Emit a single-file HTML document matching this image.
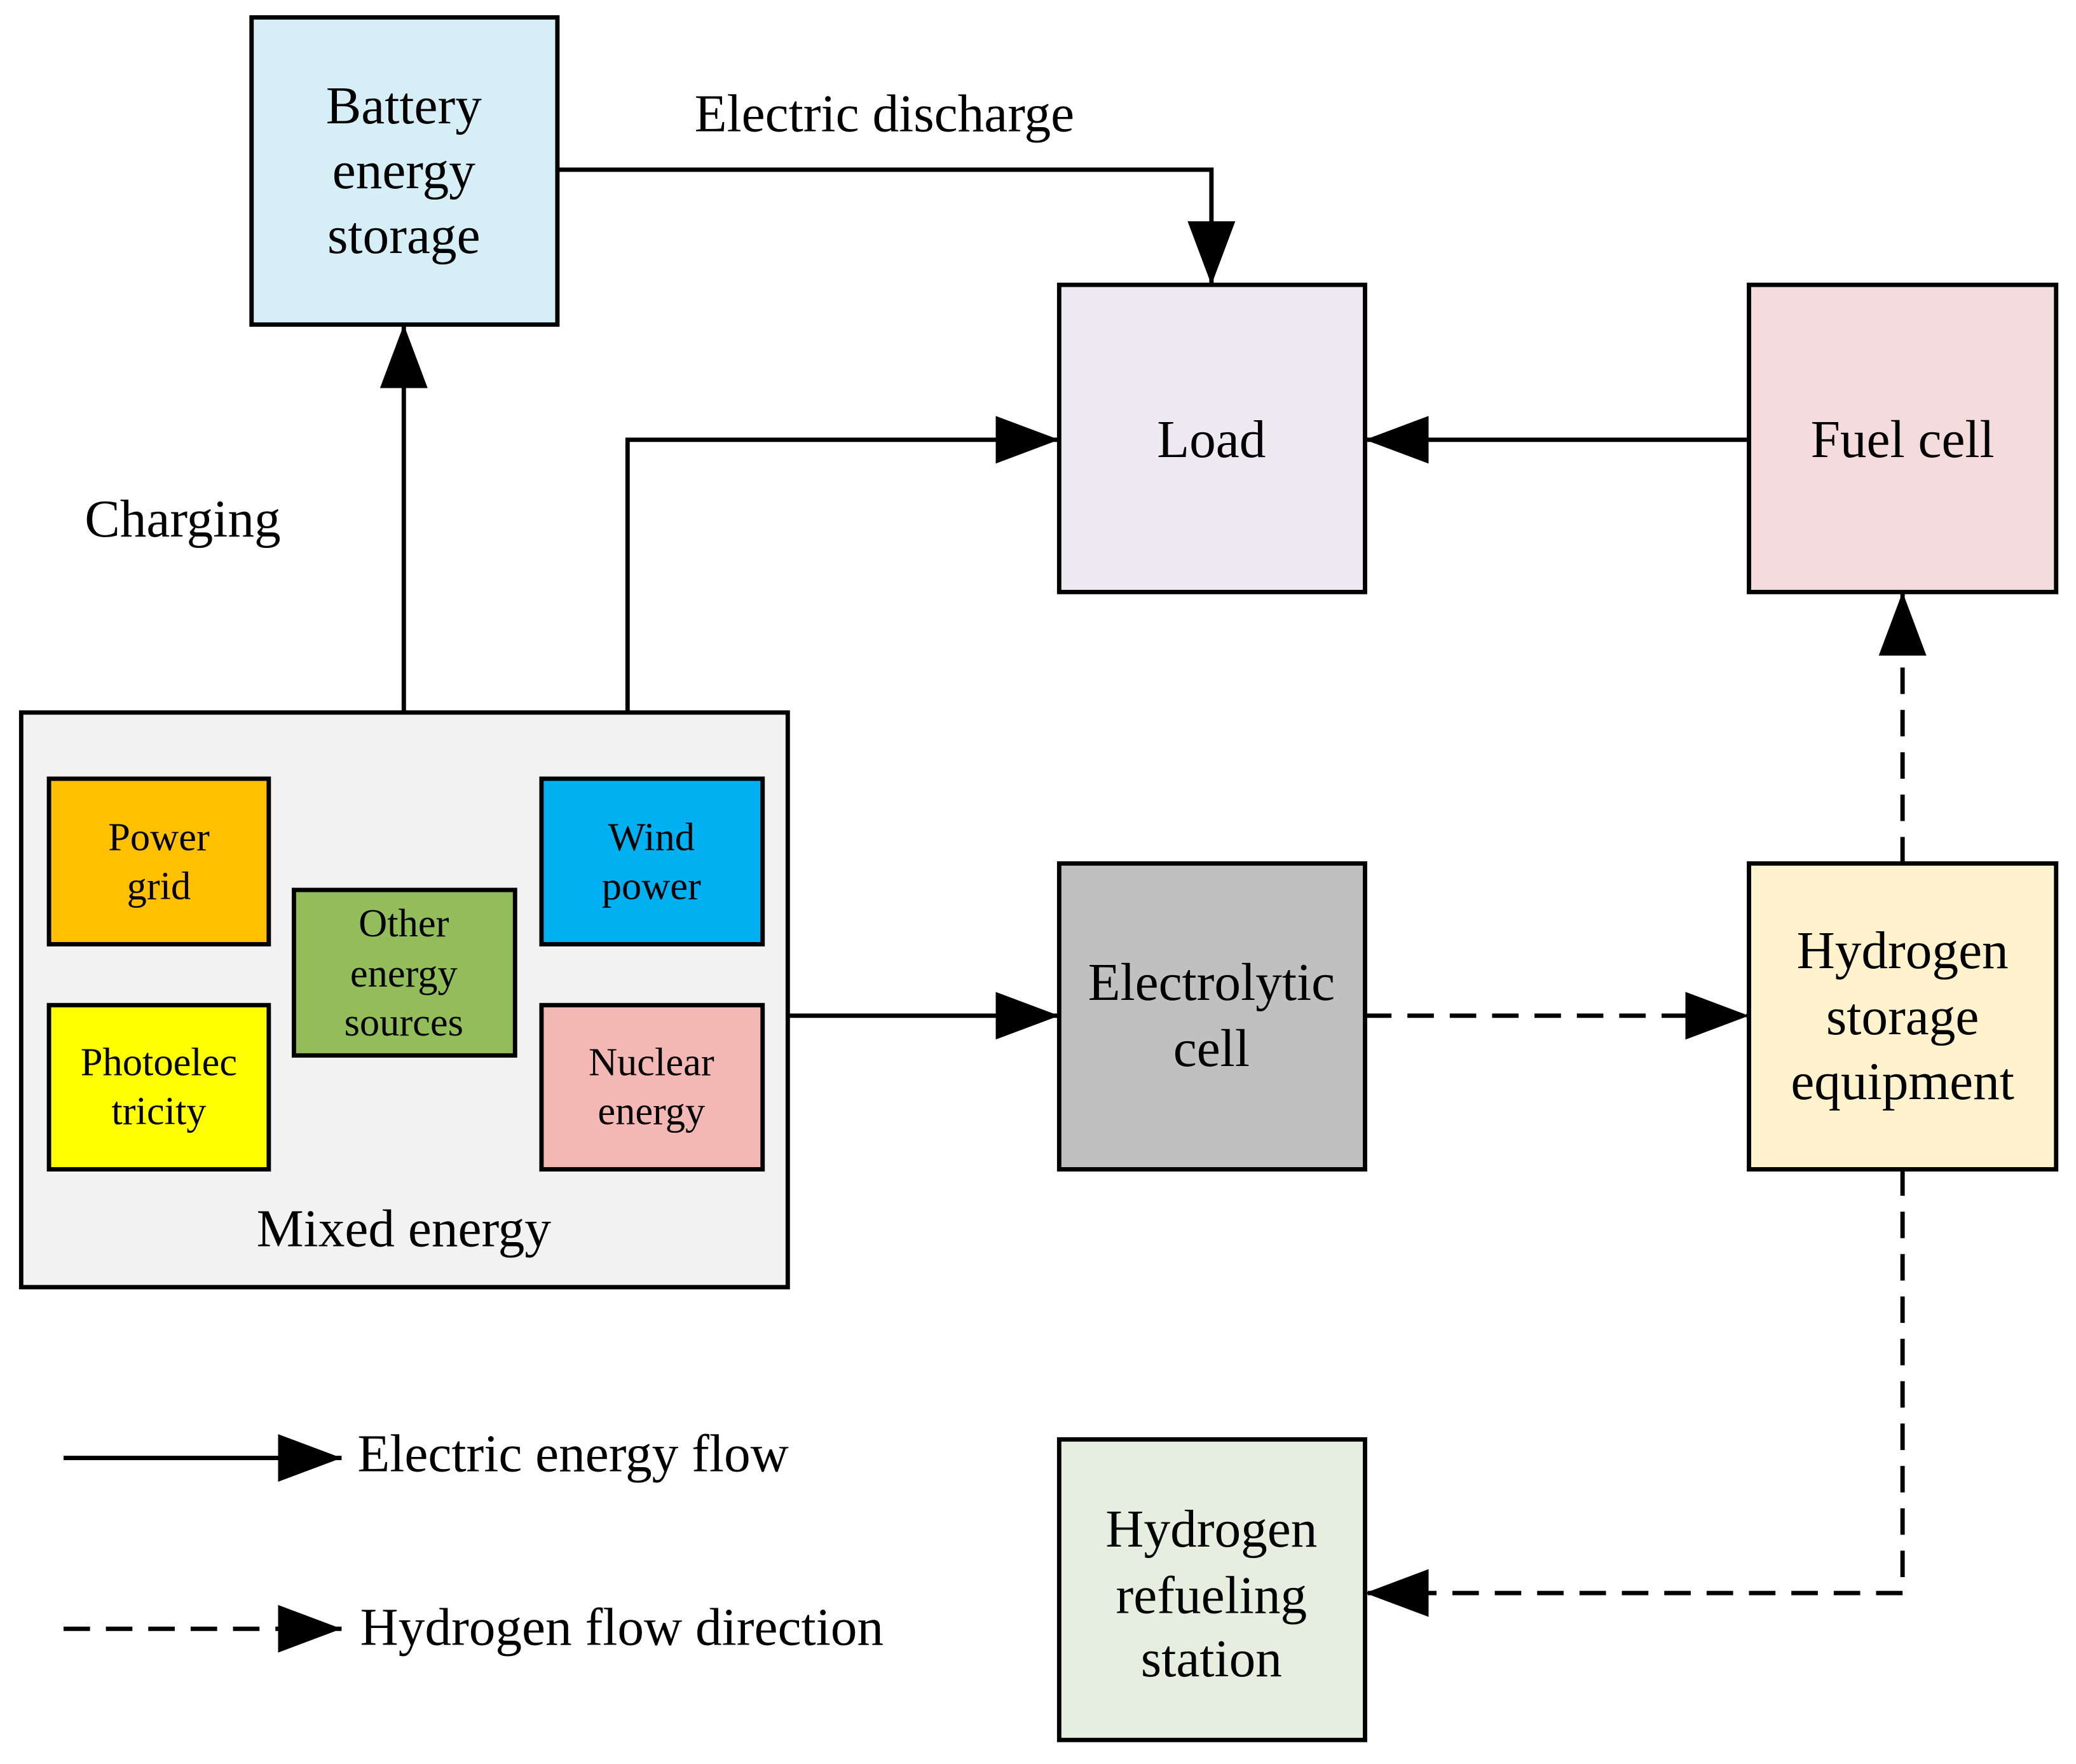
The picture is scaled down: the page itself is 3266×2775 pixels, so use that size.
<!DOCTYPE html>
<html><head><style>html,body{margin:0;padding:0;background:#fff}svg{display:block}</style></head>
<body>
<svg width="3266" height="2775" viewBox="0 0 1568 1332" xmlns="http://www.w3.org/2000/svg" font-family="Liberation Serif, serif" text-anchor="middle">
<defs>
<marker id="a" markerWidth="48" markerHeight="36" refX="48" refY="18" orient="auto" markerUnits="userSpaceOnUse"><path d="M0,0 L48,18 L0,36 z" fill="#000"/></marker>
</defs>
<g stroke="#000" stroke-width="3.3">
<rect x="190" y="13" width="231" height="232" fill="#d6eef5"/>
<rect x="800" y="215" width="231" height="232" fill="#eeeaf2"/>
<rect x="1321" y="215" width="232" height="232" fill="#f5dcdc"/>
<rect x="16" y="538" width="579" height="434" fill="#f2f2f2"/>
<rect x="37" y="588" width="166" height="125" fill="#ffc000"/>
<rect x="409" y="588" width="167" height="125" fill="#00b0f0"/>
<rect x="222" y="672" width="167" height="125" fill="#92bd5a"/>
<rect x="37" y="759" width="166" height="124" fill="#ffff00"/>
<rect x="409" y="759" width="167" height="124" fill="#f4b8b4"/>
<rect x="800" y="652" width="231" height="231" fill="#c0c0c0"/>
<rect x="1321" y="652" width="232" height="231" fill="#fff2cc"/>
<rect x="800" y="1087" width="231" height="227" fill="#e6efdf"/>
</g>
<g stroke="#000" stroke-width="3.3" fill="none">
<path d="M421,128 H915 V215" marker-end="url(#a)"/>
<path d="M1321,332 H1031" marker-end="url(#a)"/>
<path d="M305,538 V245" marker-end="url(#a)"/>
<path d="M474,538 V332 H800" marker-end="url(#a)"/>
<path d="M595,767 H800" marker-end="url(#a)"/>
<path d="M48,1101 H258" marker-end="url(#a)"/>
</g>
<g stroke="#000" stroke-width="3.3" fill="none" stroke-dasharray="20,12">
<path d="M1031,767 H1321" marker-end="url(#a)"/>
<path d="M1437,652 V447" marker-end="url(#a)"/>
<path d="M1437,883 V1203 H1031" marker-end="url(#a)"/>
<path d="M48,1230 H258" marker-end="url(#a)"/>
</g>
<g font-size="40">
<text x="305" y="93">Battery</text><text x="305" y="142">energy</text><text x="305" y="191">storage</text>
<text x="668" y="99">Electric discharge</text>
<text x="915" y="345">Load</text>
<text x="1437" y="345">Fuel cell</text>
<text x="138" y="405">Charging</text>
<text x="915" y="755">Electrolytic</text><text x="915" y="805">cell</text>
<text x="1437" y="731">Hydrogen</text><text x="1437" y="781">storage</text><text x="1437" y="830">equipment</text>
<text x="915" y="1168">Hydrogen</text><text x="915" y="1218">refueling</text><text x="915" y="1266">station</text>
<text x="305" y="941">Mixed energy</text>
<text x="270" y="1111" text-anchor="start">Electric energy flow</text>
<text x="272" y="1242" text-anchor="start">Hydrogen flow direction</text>
</g>
<g font-size="30">
<text x="120" y="642">Power</text><text x="120" y="679">grid</text>
<text x="492" y="642">Wind</text><text x="492" y="679">power</text>
<text x="305" y="707">Other</text><text x="305" y="745">energy</text><text x="305" y="782">sources</text>
<text x="120" y="812">Photoelec</text><text x="120" y="849">tricity</text>
<text x="492" y="812">Nuclear</text><text x="492" y="849">energy</text>
</g>
</svg>
</body></html>
